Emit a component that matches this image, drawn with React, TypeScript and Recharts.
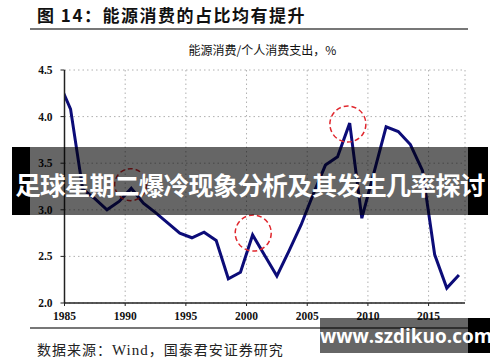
import React from 'react'
import { LineChart, Line, XAxis, YAxis, CartesianGrid, ReferenceDot } from 'recharts'

// 能源消费/个人消费支出（%），按年份；1984 只用来画出左边被截掉的线头
const years = [
  1984, 1985, 1986, 1987, 1988, 1989, 1990, 1991, 1992, 1993, 1994, 1995,
  1996, 1997, 1998, 1999, 2000, 2001, 2002, 2003, 2004, 2005, 2006, 2007,
  2008, 2009, 2010, 2011, 2012, 2013, 2014, 2015, 2016, 2017,
]
const shares = [
  4.38, 4.08, 3.22, 3.12, 3.0, 3.09, 3.23, 3.07, 2.97, 2.86, 2.75, 2.7,
  2.76, 2.67, 2.26, 2.33, 2.73, 2.51, 2.29, 2.56, 2.84, 3.17, 3.48, 3.57,
  3.93, 2.91, 3.4, 3.89, 3.84, 3.7, 3.42, 2.52, 2.16, 2.3,
]

const xTicks = [1985, 1990, 1995, 2000, 2005, 2010, 2015]
const yTicks = [2.0, 2.5, 3.0, 3.5, 4.0, 4.5]

// 红色虚线圈标注的位置（年份, 数值）
const highlights = [
  { x: 1990.45, y: 3.27, r: 16 },
  { x: 2000.55, y: 2.75, r: 18 },
  { x: 2008.35, y: 3.92, r: 18 },
]

// 年度数据画在年中
const data = years.map((year, i) => ({ x: year + 0.5, value: shares[i] }))

const cjk = '"Noto Sans CJK SC", "Noto Sans", sans-serif'
const serif = '"Liberation Serif", "DejaVu Serif", serif'

export default function App() {
  return (
    <div style={{ position: 'absolute', left: 0, top: 0, width: 500, height: 362, background: '#fff', overflow: 'hidden' }}>
      <div style={{ position: 'absolute', left: 37, top: 2, fontFamily: cjk, fontSize: 17, fontWeight: 700, color: '#111', letterSpacing: 1.5, whiteSpace: 'nowrap' }}>
        图 14：能源消费的占比均有提升
      </div>
      <div style={{ position: 'absolute', left: 30, top: 28, width: 438, height: 1.5, background: '#777' }} />
      <div style={{ position: 'absolute', left: 0, width: 525, top: 41, textAlign: 'center', fontFamily: cjk, fontSize: 12, color: '#111', whiteSpace: 'nowrap' }}>
        能源消费/个人消费支出，%
      </div>

      <div style={{ position: 'absolute', left: 0, top: 0 }}>
        <LineChart width={500} height={362} data={data} margin={{ top: 70, right: 35, bottom: 39, left: 34.5 }}>
          <CartesianGrid stroke="#b0b0b0" strokeDasharray="1.5 3" horizontal vertical />
          <XAxis
            dataKey="x"
            type="number"
            domain={[1985, 2018]}
            allowDataOverflow
            ticks={xTicks}
            height={20}
            axisLine={{ stroke: '#222', strokeWidth: 1.5 }}
            tickLine={{ stroke: '#222' }}
            tickSize={3}
            tickMargin={6}
            tick={{ fill: '#111', fontSize: 11.5, fontWeight: 700, fontFamily: serif }}
          />
          <YAxis
            type="number"
            domain={[2, 4.5]}
            ticks={yTicks}
            width={30}
            axisLine={{ stroke: '#222', strokeWidth: 1.5 }}
            tickLine={{ stroke: '#222' }}
            tickSize={4}
            tickMargin={8}
            tickFormatter={(v: number) => v.toFixed(1)}
            tick={{ fill: '#111', fontSize: 11.5, fontWeight: 700, fontFamily: serif }}
          />
          <Line
            type="linear"
            dataKey="value"
            stroke="#0c0c78"
            strokeWidth={3}
            dot={false}
            isAnimationActive={false}
          />
          {highlights.map((h, i) => (
            <ReferenceDot
              key={i}
              x={h.x}
              y={h.y}
              r={h.r}
              fill="none"
              stroke="#e0282e"
              strokeWidth={1.5}
              strokeDasharray="5 3"
            />
          ))}
        </LineChart>
      </div>

      <div style={{ position: 'absolute', left: 30, top: 327, width: 438, height: 1.5, background: '#777' }} />
      <div style={{ position: 'absolute', left: 37, top: 339, fontFamily: cjk, fontSize: 14, color: '#222', letterSpacing: 1, whiteSpace: 'nowrap' }}>
        数据来源：<span style={{ fontFamily: serif, fontSize: 15 }}>Wind</span>，国泰君安证券研究
      </div>

      {/* 网页水印横幅 */}
      <div style={{ position: 'absolute', left: 12, top: 147, width: 18, height: 68, background: '#000' }} />
      <div style={{ position: 'absolute', left: 468, top: 147, width: 20, height: 68, background: '#000' }} />
      <div style={{ position: 'absolute', left: 30, top: 147, width: 438, height: 68, background: 'rgba(0,0,0,0.6)' }} />
      <div style={{ position: 'absolute', left: 0, width: 500, top: 171, textAlign: 'center', fontFamily: cjk, fontSize: 25.5, fontWeight: 700, color: '#fff', whiteSpace: 'nowrap', lineHeight: '26px', letterSpacing: -0.8 }}>
        足球星期二爆冷现象分析及其发生几率探讨
      </div>

      <div style={{ position: 'absolute', left: 320, top: 318, width: 148, height: 35, background: 'rgba(0,0,0,0.6)' }} />
      <div style={{ position: 'absolute', left: 468, top: 318, width: 22, height: 35, background: '#000' }} />
      <div style={{ position: 'absolute', left: 320, width: 170, top: 322, textAlign: 'center', fontFamily: '"Open Sans", "Noto Sans", sans-serif', fontSize: 19, fontWeight: 700, color: '#fff', whiteSpace: 'nowrap', lineHeight: '28px' }}>
        www.szdikuo.com
      </div>
    </div>
  )
}
